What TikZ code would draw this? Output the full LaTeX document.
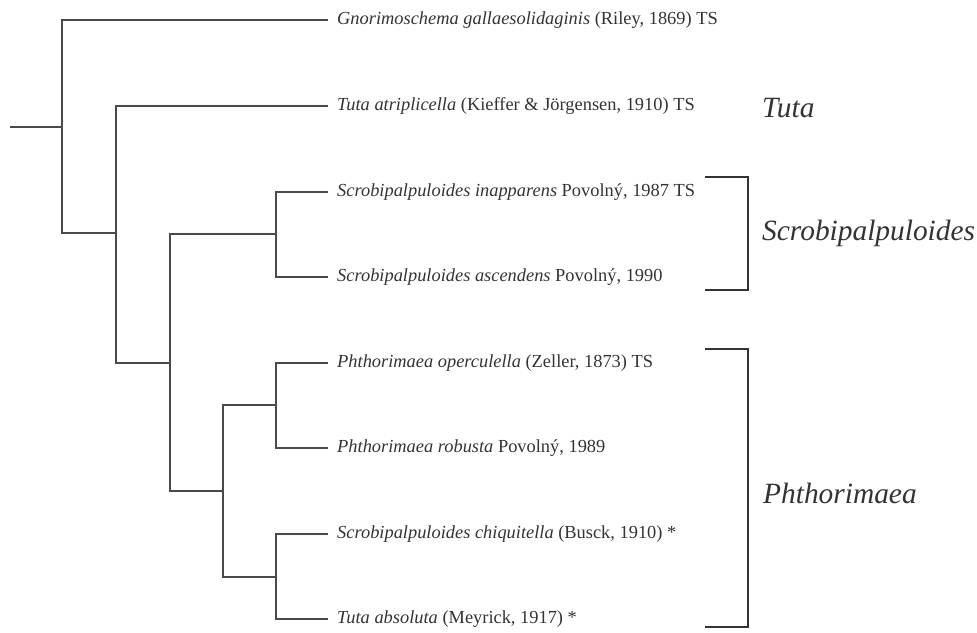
\documentclass[tikz,border=0pt]{standalone}
\usepackage{fontspec}
\setmainfont{Liberation Serif}
\definecolor{ink}{HTML}{333333}
\definecolor{branch}{HTML}{4A4A4A}
\begin{document}
\begin{tikzpicture}[x=1pt,y=-1pt,
  edge/.style={draw=branch,line width=1.3pt},
  brk/.style={draw=ink,line width=2pt},
  leaf/.style={anchor=west,inner xsep=9pt,inner ysep=0pt,text=ink,font=\fontsize{18.4}{21}\selectfont},
  genus/.style={anchor=west,inner sep=0pt,text=ink,font=\fontsize{29.4}{33}\selectfont\itshape}]
\useasboundingbox (0,0) rectangle (977,632);
% leaves
\node[leaf] (L1) at (328,20) {\textit{Gnorimoschema gallaesolidaginis} (Riley, 1869) TS};
\node[leaf] (L2) at (328,106) {\textit{Tuta atriplicella} (Kieffer \& Jörgensen, 1910) TS};
\node[leaf] (L3) at (328,192) {\textit{Scrobipalpuloides inapparens} Povolný, 1987 TS};
\node[leaf] (L4) at (328,277) {\textit{Scrobipalpuloides ascendens} Povolný, 1990};
\node[leaf] (L5) at (328,363) {\textit{Phthorimaea operculella} (Zeller, 1873) TS};
\node[leaf] (L6) at (328,448) {\textit{Phthorimaea robusta} Povolný, 1989};
\node[leaf] (L7) at (328,534) {\textit{Scrobipalpuloides chiquitella} (Busck, 1910) *};
\node[leaf] (L8) at (328,619) {\textit{Tuta absoluta} (Meyrick, 1917) *};
% internal nodes
\coordinate (R) at (10,127);
\coordinate (nA) at (62,127);
\coordinate (nB) at (116,233);
\coordinate (nC) at (170,363);
\coordinate (nS) at (276,234);
\coordinate (nD) at (223,491);
\coordinate (nP) at (276,405);
\coordinate (nQ) at (276,577);
% edges
\draw[edge] (R) -- (nA);
\draw[edge] (nA) |- (L1.west);
\draw[edge] (nA) |- (nB);
\draw[edge] (nB) |- (L2.west);
\draw[edge] (nB) |- (nC);
\draw[edge] (nC) |- (nS);
\draw[edge] (nC) |- (nD);
\draw[edge] (nS) |- (L3.west);
\draw[edge] (nS) |- (L4.west);
\draw[edge] (nD) |- (nP);
\draw[edge] (nD) |- (nQ);
\draw[edge] (nP) |- (L5.west);
\draw[edge] (nP) |- (L6.west);
\draw[edge] (nQ) |- (L7.west);
\draw[edge] (nQ) |- (L8.west);
% brackets
\coordinate (b1t) at (705,177);
\coordinate (b1b) at (705,290);
\coordinate (b2t) at (705,349);
\coordinate (b2b) at (705,627);
\draw[brk] (b1t) -| (748,233.5) |- (b1b);
\draw[brk] (b2t) -| (748,488) |- (b2b);
% genus labels
\node[genus] (G1) at (762,108) {Tuta};
\node[genus] (G2) at (762,233) {Scrobipalpuloides};
\node[genus] (G3) at (763,493) {Phthorimaea};
\end{tikzpicture}
\end{document}
